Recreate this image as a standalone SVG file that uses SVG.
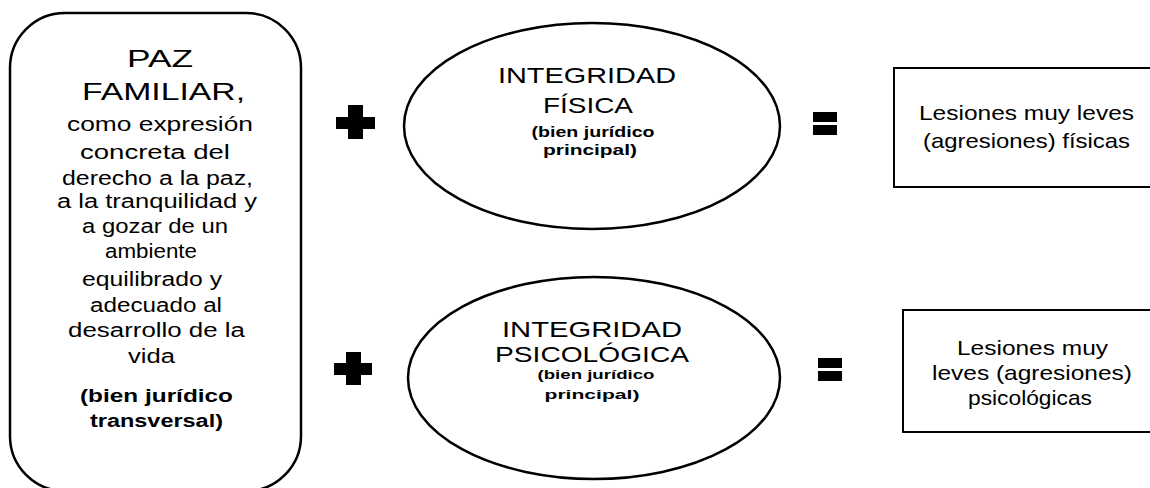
<svg xmlns="http://www.w3.org/2000/svg" width="1150" height="488" viewBox="0 0 1150 488">
<style>
.shape{fill:#fff;stroke:#000;stroke-width:2.5}
.box{fill:#fff;stroke:#000;stroke-width:2}
text{font-family:"Liberation Sans",Arial,sans-serif;fill:#000;text-anchor:middle}
.big{font-size:24px}
.mid{font-size:22px}
.reg{font-size:20px}
.r21{font-size:21px}
.b{font-weight:bold}
.sym{fill:#000}
</style>
<rect width="1150" height="488" fill="#fff"/>
<g id="paz-familiar">
<rect class="shape" x="10" y="13" width="291" height="478" rx="55" ry="55"/>
<text class="big" x="160" y="67" textLength="66" lengthAdjust="spacingAndGlyphs">PAZ</text>
<text class="big" x="163.5" y="100" textLength="163" lengthAdjust="spacingAndGlyphs">FAMILIAR,</text>
<text class="reg" x="160" y="131" textLength="186" lengthAdjust="spacingAndGlyphs">como expresión</text>
<text class="reg" x="155" y="159" textLength="150" lengthAdjust="spacingAndGlyphs">concreta del</text>
<text class="reg" x="157.5" y="185" textLength="191" lengthAdjust="spacingAndGlyphs">derecho a la paz,</text>
<text class="reg" x="157" y="208" textLength="200" lengthAdjust="spacingAndGlyphs">a la tranquilidad y</text>
<text class="reg" x="155" y="233" textLength="146" lengthAdjust="spacingAndGlyphs">a gozar de un</text>
<text class="reg" x="151" y="258" textLength="92" lengthAdjust="spacingAndGlyphs">ambiente</text>
<text class="reg" x="152" y="286" textLength="140" lengthAdjust="spacingAndGlyphs">equilibrado y</text>
<text class="reg" x="156" y="312" textLength="132" lengthAdjust="spacingAndGlyphs">adecuado al</text>
<text class="reg" x="156.5" y="337" textLength="177" lengthAdjust="spacingAndGlyphs">desarrollo de la</text>
<text class="reg" x="151.5" y="363" textLength="47" lengthAdjust="spacingAndGlyphs">vida</text>
<text class="b" x="156.5" y="402" font-size="18" textLength="153" lengthAdjust="spacingAndGlyphs">(bien jurídico</text>
<text class="b" x="156.5" y="427" font-size="18" textLength="133" lengthAdjust="spacingAndGlyphs">transversal)</text>
</g>
<g id="plus-1"><path class="sym" d="M348,105 H363 V117 H375 V129 H363 V139 H348 V129 H336 V117 H348 Z"/></g>
<g id="plus-2"><path class="sym" d="M346,352 H361 V363 H372 V375 H361 V385 H346 V375 H334 V363 H346 Z"/></g>
<g id="integridad-fisica">
<ellipse class="shape" cx="592" cy="126" rx="188" ry="103"/>
<text class="mid" x="587" y="83" textLength="178" lengthAdjust="spacingAndGlyphs">INTEGRIDAD</text>
<text class="mid" x="588" y="113" textLength="90" lengthAdjust="spacingAndGlyphs">FÍSICA</text>
<text class="b" x="593" y="137" font-size="14" textLength="123" lengthAdjust="spacingAndGlyphs">(bien jurídico</text>
<text class="b" x="590" y="155" font-size="14" textLength="94" lengthAdjust="spacingAndGlyphs">principal)</text>
</g>
<g id="integridad-psicologica">
<ellipse class="shape" cx="594" cy="378" rx="186" ry="101"/>
<text class="mid" x="592" y="337" textLength="180" lengthAdjust="spacingAndGlyphs">INTEGRIDAD</text>
<text class="mid" x="592" y="362" textLength="194" lengthAdjust="spacingAndGlyphs">PSICOLÓGICA</text>
<text class="b" x="596" y="379" font-size="13" textLength="117" lengthAdjust="spacingAndGlyphs">(bien jurídico</text>
<text class="b" x="592" y="399" font-size="13" textLength="95" lengthAdjust="spacingAndGlyphs">principal)</text>
</g>
<g id="eq-1"><rect class="sym" x="813" y="112" width="24" height="10"/><rect class="sym" x="813" y="125" width="24" height="10"/></g>
<g id="eq-2"><rect class="sym" x="818" y="358" width="24" height="10"/><rect class="sym" x="818" y="371" width="24" height="10"/></g>
<g id="lesiones-fisicas">
<rect class="box" x="894" y="68" width="260" height="119"/>
<text class="r21" x="1026.5" y="120" textLength="215" lengthAdjust="spacingAndGlyphs">Lesiones muy leves</text>
<text class="r21" x="1026.5" y="148" textLength="207" lengthAdjust="spacingAndGlyphs">(agresiones) físicas</text>
</g>
<g id="lesiones-psicologicas">
<rect class="box" x="903" y="310" width="251" height="122"/>
<text class="r21" x="1032.5" y="355" textLength="151" lengthAdjust="spacingAndGlyphs">Lesiones muy</text>
<text class="r21" x="1032" y="380" textLength="200" lengthAdjust="spacingAndGlyphs">leves (agresiones)</text>
<text class="r21" x="1030" y="405" textLength="124" lengthAdjust="spacingAndGlyphs">psicológicas</text>
</g>
<g id="connectors"/>
</svg>
